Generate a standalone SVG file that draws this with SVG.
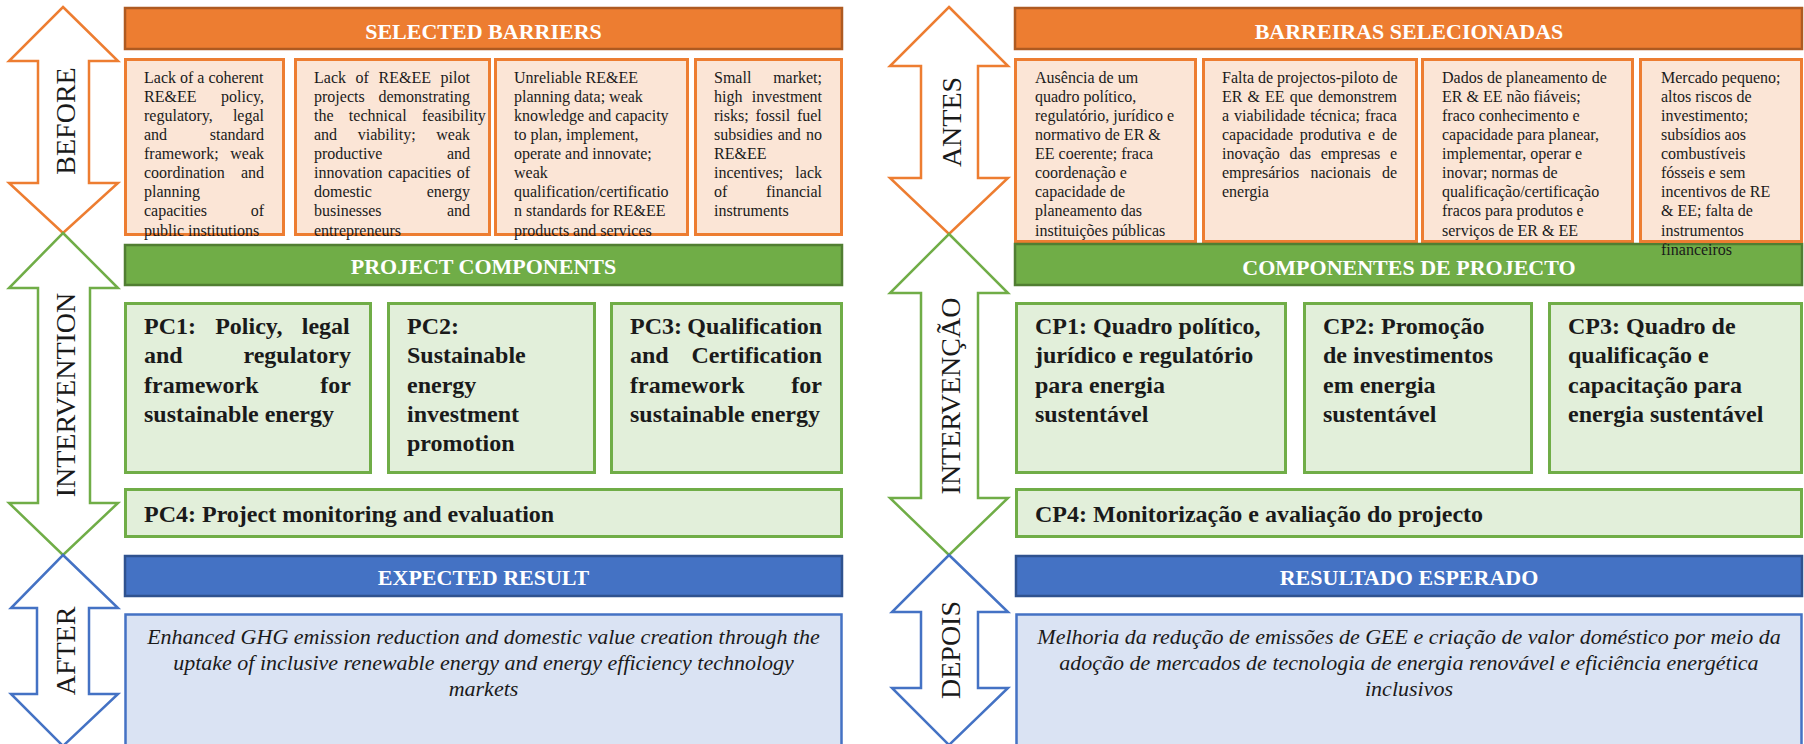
<svg xmlns="http://www.w3.org/2000/svg" width="1804" height="744" viewBox="0 0 1804 744">
<style>
text{font-family:"Liberation Serif","Times New Roman",serif;fill:#1a1a1a}
.arrO{fill:#fff;stroke:#ED7D31;stroke-width:2.5;stroke-linejoin:miter}
.arrG{fill:#fff;stroke:#70AD47;stroke-width:2.5}
.arrB{fill:#fff;stroke:#4472C4;stroke-width:2.5}
.lbl{font-size:28px;text-anchor:middle}
.hO{fill:#ED7D31;stroke:#AE5A21;stroke-width:2.5}
.hG{fill:#70AD47;stroke:#507E32;stroke-width:2.5}
.hB{fill:#4472C4;stroke:#2F528F;stroke-width:2.5}
.ht{font-size:22px;font-weight:bold;fill:#fff;text-anchor:middle}
.bx{fill:#FBE5D6;stroke:#ED7D31;stroke-width:3}
.gx{fill:#E2EFDA;stroke:#70AD47;stroke-width:3}
.ux{fill:#DAE3F3;stroke:#4472C4;stroke-width:2.5}
.t{font-size:16px}
.e{text-anchor:end}
.pc{font-size:24px;font-weight:bold}
.it{font-size:22px;font-style:italic;text-anchor:middle}
</style>

<g id="arrows">
<path class="arrO" d="M63,7 L118,61 L89,61 L89,183 L118,183 L63,233 L9,183 L38,183 L38,61 L9,61 Z"/>
<path class="arrG" d="M63,233 L118,288 L90,288 L90,503 L118,503 L63,555 L9,503 L38,503 L38,288 L9,288 Z"/>
<path class="arrB" d="M63,555 L118,608 L89,608 L89,694 L118,694 L63,746 L11,694 L37,694 L37,608 L11,608 Z"/>
<path class="arrO" d="M949,7 L1008,66 L978,66 L978,178 L1008,178 L949,234 L890,178 L921,178 L921,66 L890,66 Z"/>
<path class="arrG" d="M949,234 L1008,293 L978,293 L978,498 L1008,498 L949,555 L890,498 L921,498 L921,293 L890,293 Z"/>
<path class="arrB" d="M949,555 L1008,612 L978,612 L978,688 L1008,688 L949,745 L892,688 L921,688 L921,612 L892,612 Z"/>
<text class="lbl" transform="translate(75,121) rotate(-90)">BEFORE</text>
<text class="lbl" transform="translate(75,395) rotate(-90)">INTERVENTION</text>
<text class="lbl" transform="translate(75,651) rotate(-90)">AFTER</text>
<text class="lbl" transform="translate(961,122) rotate(-90)">ANTES</text>
<text class="lbl" transform="translate(960,396) rotate(-90)">INTERVENÇÃO</text>
<text class="lbl" transform="translate(960,650) rotate(-90)">DEPOIS</text>
</g>

<!-- LEFT PANEL -->
<g id="selected-barriers">
<rect class="hO" x="125" y="8" width="717" height="41"/>
<text class="ht" x="483.5" y="39">SELECTED BARRIERS</text>
</g>

<g id="barrier-1">
<rect class="bx" x="125.5" y="59.5" width="158" height="175"/>
<text class="t" x="144" y="82.7">Lack of a coherent</text>
<text class="t" y="101.8"><tspan x="144">RE&amp;EE</tspan><tspan x="264" class="e" text-anchor="end">policy,</tspan></text>
<text class="t" y="120.9"><tspan x="144">regulatory,</tspan><tspan x="264" text-anchor="end">legal</tspan></text>
<text class="t" y="140"><tspan x="144">and</tspan><tspan x="264" text-anchor="end">standard</tspan></text>
<text class="t" y="159.1"><tspan x="144">framework;</tspan><tspan x="264" text-anchor="end">weak</tspan></text>
<text class="t" y="178.2"><tspan x="144">coordination</tspan><tspan x="264" text-anchor="end">and</tspan></text>
<text class="t" x="144" y="197.3">planning</text>
<text class="t" y="216.4"><tspan x="144">capacities</tspan><tspan x="264" text-anchor="end">of</tspan></text>
<text class="t" x="144" y="235.5">public institutions</text>
</g>

<g id="barrier-2">
<rect class="bx" x="295.5" y="59.5" width="194" height="175"/>
<text class="t" x="314" y="82.7" word-spacing="5.6">Lack of RE&amp;EE pilot</text>
<text class="t" y="101.8"><tspan x="314">projects</tspan><tspan x="470" text-anchor="end">demonstrating</tspan></text>
<text class="t" x="314" y="120.9" word-spacing="11.3">the technical feasibility</text>
<text class="t" x="314" y="140" word-spacing="16.7">and viability; weak</text>
<text class="t" y="159.1"><tspan x="314">productive</tspan><tspan x="470" text-anchor="end">and</tspan></text>
<text class="t" x="314" y="178.2" word-spacing="1.6">innovation capacities of</text>
<text class="t" y="197.3"><tspan x="314">domestic</tspan><tspan x="470" text-anchor="end">energy</tspan></text>
<text class="t" y="216.4"><tspan x="314">businesses</tspan><tspan x="470" text-anchor="end">and</tspan></text>
<text class="t" x="314" y="235.5">entrepreneurs</text>
</g>

<g id="barrier-3">
<rect class="bx" x="495.5" y="59.5" width="192" height="175"/>
<text class="t" x="514" y="82.7">Unreliable RE&amp;EE</text>
<text class="t" x="514" y="101.8">planning data; weak</text>
<text class="t" x="514" y="120.9">knowledge and capacity</text>
<text class="t" x="514" y="140">to plan, implement,</text>
<text class="t" x="514" y="159.1">operate and innovate;</text>
<text class="t" x="514" y="178.2">weak</text>
<text class="t" x="514" y="197.3">qualification/certificatio</text>
<text class="t" x="514" y="216.4">n standards for RE&amp;EE</text>
<text class="t" x="514" y="235.5">products and services</text>
</g>

<g id="barrier-4">
<rect class="bx" x="695.5" y="59.5" width="146" height="175"/>
<text class="t" y="82.7"><tspan x="714">Small</tspan><tspan x="822" text-anchor="end">market;</tspan></text>
<text class="t" y="101.8"><tspan x="714">high</tspan><tspan x="822" text-anchor="end">investment</tspan></text>
<text class="t" x="714" y="120.9" word-spacing="2.8">risks; fossil fuel</text>
<text class="t" x="714" y="140" word-spacing="1.1">subsidies and no</text>
<text class="t" x="714" y="159.1">RE&amp;EE</text>
<text class="t" y="178.2"><tspan x="714">incentives;</tspan><tspan x="822" text-anchor="end">lack</tspan></text>
<text class="t" y="197.3"><tspan x="714">of</tspan><tspan x="822" text-anchor="end">financial</tspan></text>
<text class="t" x="714" y="216.4">instruments</text>
</g>

<g id="project-components">
<rect class="hG" x="125" y="245" width="717" height="40"/>
<text class="ht" x="483.5" y="274">PROJECT COMPONENTS</text>
</g>

<g id="pc1">
<rect class="gx" x="125.5" y="303.5" width="245" height="169"/>
<text class="pc" x="144" y="334" word-spacing="13.2">PC1: Policy, legal</text>
<text class="pc" y="363.3"><tspan x="144">and</tspan><tspan x="351" text-anchor="end">regulatory</tspan></text>
<text class="pc" y="392.6"><tspan x="144">framework</tspan><tspan x="351" text-anchor="end">for</tspan></text>
<text class="pc" x="144" y="421.9">sustainable energy</text>
</g>

<g id="pc2">
<rect class="gx" x="388.5" y="303.5" width="206" height="169"/>
<text class="pc" x="407" y="334">PC2:</text>
<text class="pc" x="407" y="363.3">Sustainable</text>
<text class="pc" x="407" y="392.6">energy</text>
<text class="pc" x="407" y="421.9">investment</text>
<text class="pc" x="407" y="451.2">promotion</text>
</g>

<g id="pc3">
<rect class="gx" x="611.5" y="303.5" width="230" height="169"/>
<text class="pc" y="334"><tspan x="630">PC3:</tspan><tspan x="822" text-anchor="end">Qualification</tspan></text>
<text class="pc" y="363.3"><tspan x="630">and</tspan><tspan x="822" text-anchor="end">Certification</tspan></text>
<text class="pc" y="392.6"><tspan x="630">framework</tspan><tspan x="822" text-anchor="end">for</tspan></text>
<text class="pc" x="630" y="421.9">sustainable energy</text>
</g>

<g id="pc4">
<rect class="gx" x="125.5" y="489.5" width="716" height="47"/>
<text class="pc" x="144" y="522">PC4: Project monitoring and evaluation</text>
</g>

<g id="expected-result">
<rect class="hB" x="125" y="556" width="717" height="40"/>
<text class="ht" x="483.5" y="585">EXPECTED RESULT</text>
</g>

<g id="result-text">
<rect class="ux" x="125.5" y="614.5" width="716" height="140"/>
<text class="it" x="483.5" y="644">Enhanced GHG emission reduction and domestic value creation through the</text>
<text class="it" x="483.5" y="670">uptake of inclusive renewable energy and energy efficiency technology</text>
<text class="it" x="483.5" y="696">markets</text>
</g>

<!-- RIGHT PANEL -->
<g id="barreiras-selecionadas">
<rect class="hO" x="1015" y="8" width="787" height="41"/>
<text class="ht" x="1409" y="39">BARREIRAS SELECIONADAS</text>
</g>

<g id="barreira-1">
<rect class="bx" x="1015.5" y="59.5" width="180" height="182"/>
<text class="t" x="1035" y="82.7">Ausência de um</text>
<text class="t" x="1035" y="101.8">quadro político,</text>
<text class="t" x="1035" y="120.9">regulatório, jurídico e</text>
<text class="t" x="1035" y="140">normativo de ER &amp;</text>
<text class="t" x="1035" y="159.1">EE coerente; fraca</text>
<text class="t" x="1035" y="178.2">coordenação e</text>
<text class="t" x="1035" y="197.3">capacidade de</text>
<text class="t" x="1035" y="216.4">planeamento das</text>
<text class="t" x="1035" y="235.5">instituições públicas</text>
</g>

<g id="barreira-2">
<rect class="bx" x="1203.5" y="59.5" width="213" height="182"/>
<text class="t" x="1222" y="82.7">Falta de projectos-piloto de</text>
<text class="t" x="1222" y="101.8" word-spacing="1.1">ER &amp; EE que demonstrem</text>
<text class="t" x="1222" y="120.9" word-spacing="1">a viabilidade técnica; fraca</text>
<text class="t" x="1222" y="140" word-spacing="2.8">capacidade produtiva e de</text>
<text class="t" x="1222" y="159.1" word-spacing="5.8">inovação das empresas e</text>
<text class="t" x="1222" y="178.2" word-spacing="7.1">empresários nacionais de</text>
<text class="t" x="1222" y="197.3">energia</text>
</g>

<g id="barreira-3">
<rect class="bx" x="1422.5" y="59.5" width="210" height="182"/>
<text class="t" x="1442" y="82.7">Dados de planeamento de</text>
<text class="t" x="1442" y="101.8">ER &amp; EE não fiáveis;</text>
<text class="t" x="1442" y="120.9">fraco conhecimento e</text>
<text class="t" x="1442" y="140">capacidade para planear,</text>
<text class="t" x="1442" y="159.1">implementar, operar e</text>
<text class="t" x="1442" y="178.2">inovar; normas de</text>
<text class="t" x="1442" y="197.3">qualificação/certificação</text>
<text class="t" x="1442" y="216.4">fracos para produtos e</text>
<text class="t" x="1442" y="235.5">serviços de ER &amp; EE</text>
</g>

<g id="componentes-de-projecto">
<rect class="hG" x="1015" y="244" width="787" height="41"/>
<text class="ht" x="1409" y="275">COMPONENTES DE PROJECTO</text>
</g>

<g id="barreira-4">
<rect class="bx" x="1640.5" y="59.5" width="161" height="182"/>
<text class="t" x="1661" y="82.7">Mercado pequeno;</text>
<text class="t" x="1661" y="101.8">altos riscos de</text>
<text class="t" x="1661" y="120.9">investimento;</text>
<text class="t" x="1661" y="140">subsídios aos</text>
<text class="t" x="1661" y="159.1">combustíveis</text>
<text class="t" x="1661" y="178.2">fósseis e sem</text>
<text class="t" x="1661" y="197.3">incentivos de RE</text>
<text class="t" x="1661" y="216.4">&amp; EE; falta de</text>
<text class="t" x="1661" y="235.5">instrumentos</text>
<text class="t" x="1661" y="254.6">financeiros</text>
</g>

<g id="cp1">
<rect class="gx" x="1016.5" y="303.5" width="269" height="169"/>
<text class="pc" x="1035" y="334">CP1: Quadro político,</text>
<text class="pc" x="1035" y="363.3">jurídico e regulatório</text>
<text class="pc" x="1035" y="392.6">para energia</text>
<text class="pc" x="1035" y="421.9">sustentável</text>
</g>

<g id="cp2">
<rect class="gx" x="1304.5" y="303.5" width="227" height="169"/>
<text class="pc" x="1323" y="334">CP2: Promoção</text>
<text class="pc" x="1323" y="363.3">de investimentos</text>
<text class="pc" x="1323" y="392.6">em energia</text>
<text class="pc" x="1323" y="421.9">sustentável</text>
</g>

<g id="cp3">
<rect class="gx" x="1549.5" y="303.5" width="252" height="169"/>
<text class="pc" x="1568" y="334">CP3: Quadro de</text>
<text class="pc" x="1568" y="363.3">qualificação e</text>
<text class="pc" x="1568" y="392.6">capacitação para</text>
<text class="pc" x="1568" y="421.9">energia sustentável</text>
</g>

<g id="cp4">
<rect class="gx" x="1016.5" y="489.5" width="785" height="47"/>
<text class="pc" x="1035" y="522">CP4: Monitorização e avaliação do projecto</text>
</g>

<g id="resultado-esperado">
<rect class="hB" x="1016" y="556" width="786" height="40"/>
<text class="ht" x="1409" y="585">RESULTADO ESPERADO</text>
</g>

<g id="resultado-texto">
<rect class="ux" x="1016.5" y="614.5" width="785" height="140"/>
<text class="it" x="1409" y="644">Melhoria da redução de emissões de GEE e criação de valor doméstico por meio da</text>
<text class="it" x="1409" y="670">adoção de mercados de tecnologia de energia renovável e eficiência energética</text>
<text class="it" x="1409" y="696">inclusivos</text>
</g>
</svg>
